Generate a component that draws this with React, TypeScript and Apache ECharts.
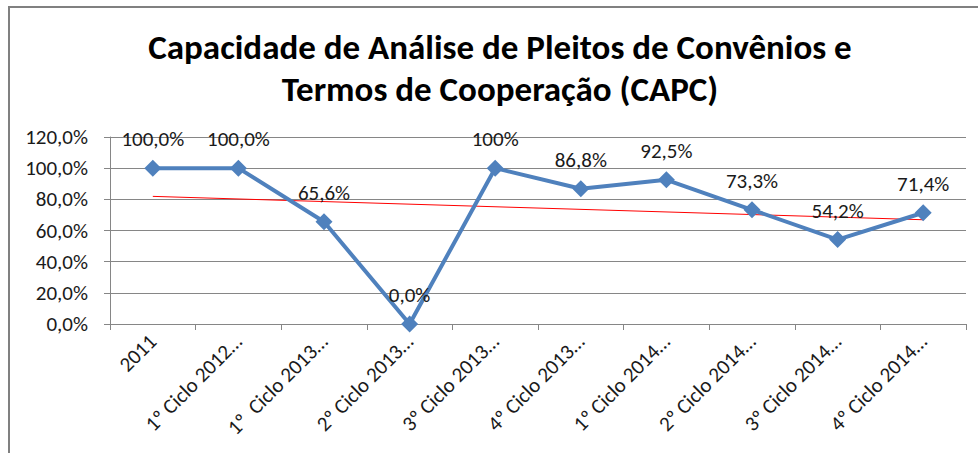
import React, { useEffect, useRef } from "react";
import * as echarts from "echarts";

const titleLines = [
  "Capacidade de Análise de Pleitos de Convênios e",
  "Termos de Cooperação (CAPC)",
];
const categories = [
  "2011",
  "1º Ciclo 2012…",
  "1º  Ciclo 2013…",
  "2º Ciclo 2013…",
  "3º Ciclo 2013…",
  "4º Ciclo 2013…",
  "1º Ciclo 2014…",
  "2º Ciclo 2014…",
  "3º Ciclo 2014…",
  "4º Ciclo 2014…",
];
const values = [100, 100, 65.6, 0, 100, 86.8, 92.5, 73.3, 54.2, 71.4];
const dataLabels = [
  "100,0%",
  "100,0%",
  "65,6%",
  "0,0%",
  "100%",
  "86,8%",
  "92,5%",
  "73,3%",
  "54,2%",
  "71,4%",
];
// trend line end points (first and last category)
const trendEnds = [81.9, 66.9];
const yTicks = { min: 0, max: 120, interval: 20 };

const FONT = "Carlito, Calibri, 'Liberation Sans', sans-serif";

export default function App() {
  const ref = useRef<HTMLDivElement>(null);
  useEffect(() => {
    if (!ref.current) return;
    const chart = echarts.init(ref.current, undefined, { renderer: "svg" });
    const trendData = categories.map((_, i) =>
      i === 0 ? trendEnds[0] : i === categories.length - 1 ? trendEnds[1] : null
    );
    chart.setOption({
      animation: false,
      backgroundColor: "#ffffff",
      textStyle: { fontFamily: FONT },
      graphic: [
        {
          type: "rect",
          shape: { x: 9, y: 7, width: 1000, height: 500 },
          style: { fill: "none", stroke: "#808080", lineWidth: 2 },
          silent: true,
        },
        {
          type: "text",
          x: 500,
          y: 47,
          style: {
            text: titleLines[0],
            font: `bold 35px ${FONT}`,
            fill: "#000000",
            align: "center",
            verticalAlign: "middle",
          },
        },
        {
          type: "text",
          x: 500,
          y: 89,
          style: {
            text: titleLines[1],
            font: `bold 35px ${FONT}`,
            fill: "#000000",
            align: "center",
            verticalAlign: "middle",
          },
        },
      ],
      grid: { left: 110, right: 12, top: 137, bottom: 129, containLabel: false },
      xAxis: {
        type: "category",
        data: categories,
        boundaryGap: true,
        axisLine: { lineStyle: { color: "#868686", width: 1 } },
        axisTick: { show: true, length: 6, lineStyle: { color: "#868686" } },
        axisLabel: {
          rotate: 45,
          interval: 0,
          fontSize: 21,
          color: "#1a1a1a",
          margin: 14,
          fontFamily: FONT,
        },
        splitLine: { show: false },
      },
      yAxis: {
        type: "value",
        min: yTicks.min,
        max: yTicks.max,
        interval: yTicks.interval,
        axisLine: { show: true, lineStyle: { color: "#868686", width: 1 } },
        axisTick: { show: true, length: 6, lineStyle: { color: "#868686" } },
        axisLabel: {
          fontSize: 21,
          color: "#1a1a1a",
          margin: 22,
          fontFamily: FONT,
          formatter: (v: number) => v.toFixed(1).replace(".", ",") + "%",
        },
        splitLine: { show: true, lineStyle: { color: "#868686", width: 1 } },
      },
      series: [
        {
          type: "line",
          data: trendData,
          connectNulls: true,
          showSymbol: false,
          symbol: "none",
          lineStyle: { color: "#ff0000", width: 1 },
          z: 1,
          silent: true,
        },
        {
          type: "line",
          data: values,
          symbol: "diamond",
          symbolSize: 17,
          itemStyle: { color: "#4F81BD" },
          lineStyle: { color: "#4F81BD", width: 4 },
          z: 3,
          label: {
            show: true,
            position: "top",
            distance: 10,
            fontSize: 21,
            color: "#1a1a1a",
            fontFamily: FONT,
            formatter: (p: any) => dataLabels[p.dataIndex],
          },
        },
      ],
    });
    return () => chart.dispose();
  }, []);
  return (
    <div
      ref={ref}
      style={{ position: "fixed", left: 0, top: 0, width: 978, height: 453 }}
    />
  );
}
